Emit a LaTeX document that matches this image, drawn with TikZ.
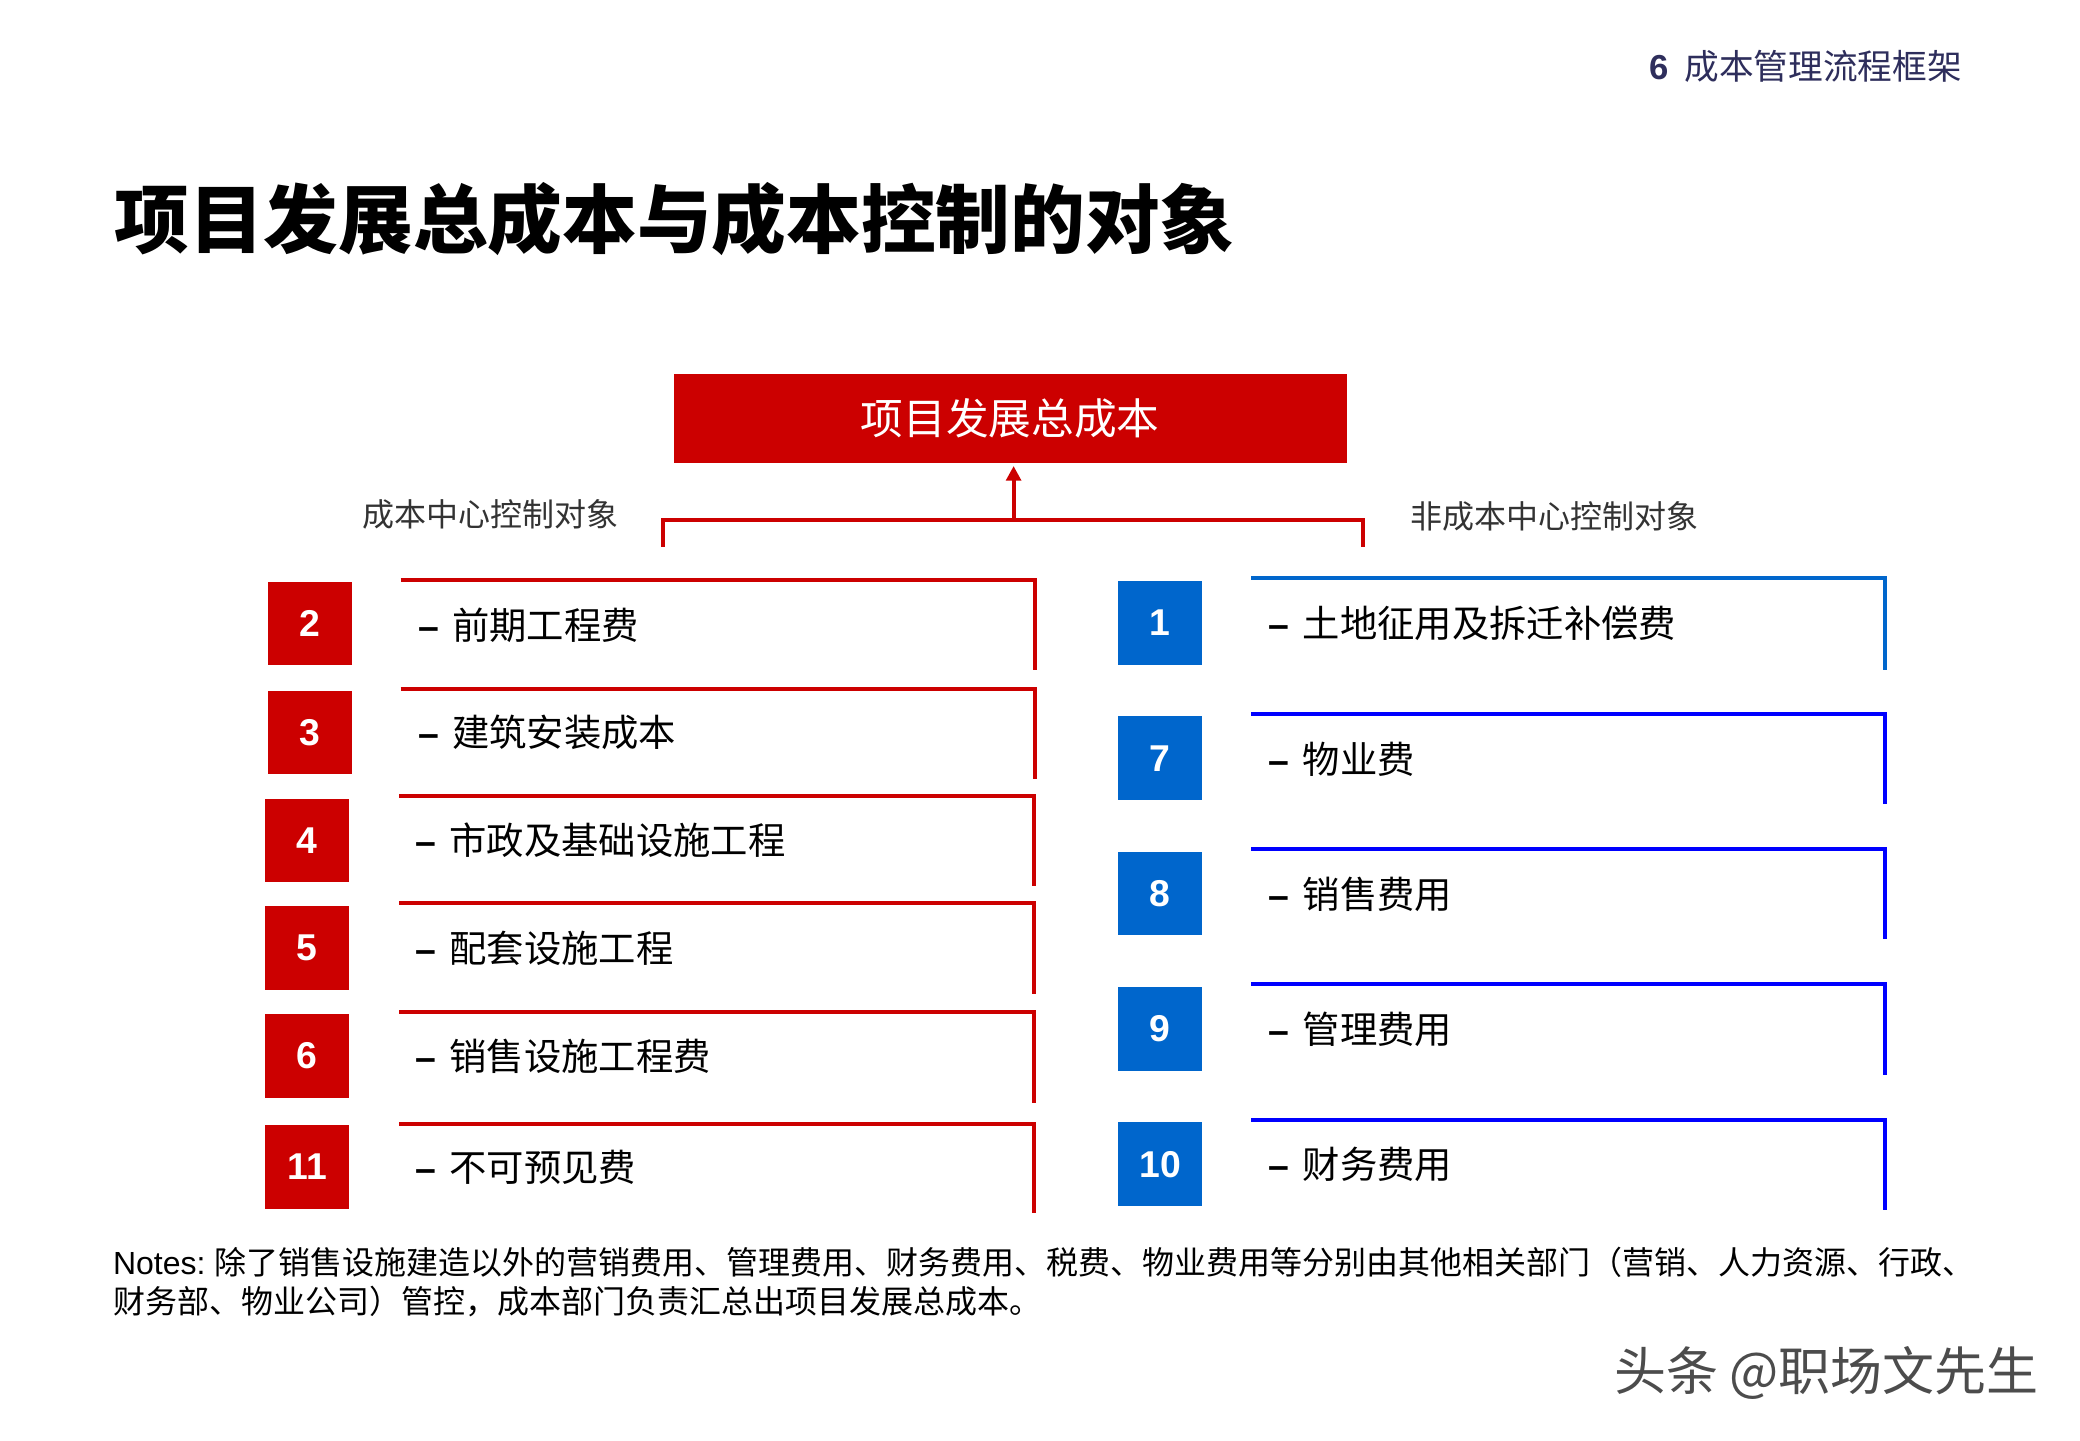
\documentclass[tikz,border=0pt]{standalone}
\usepackage{fontspec}
\setmainfont{Liberation Sans}
\newfontfamily\cjk{Noto Sans CJK SC}
\usetikzlibrary{arrows.meta}
\definecolor{costred}{HTML}{CC0000}
\definecolor{costblue}{HTML}{0066CC}
\definecolor{pureblue}{HTML}{0000FF}
\definecolor{headnavy}{HTML}{2E2E5C}
\newcommand{\fs}[1]{\fontsize{#1bp}{#1bp}\selectfont}
\newcommand{\dashtxt}[1]{\textbf{–}\hspace{10bp}{\cjk #1}}

\begin{document}
\begin{tikzpicture}[x=0.995bp,y=-0.995bp]
    \tikzstyle{every node}=[inner sep=0pt]
    \tikzstyle{numred}=[fill=costred,text=white,minimum width=62.7bp,minimum height=62.7bp,font=\bfseries\fs{28}]
    \tikzstyle{numblue}=[numred,fill=costblue]
    \tikzstyle{itemtext}=[anchor=west,font=\fs{28}]
    \tikzstyle{sidelabel}=[font=\cjk\fs{24},text=black!80]
    \tikzstyle{redframe}=[draw=costred,line width=3bp]
    \tikzstyle{blueframe}=[draw=pureblue,line width=3bp]
    \useasboundingbox[fill=white](0,0)rectangle(1567.8,1085.4);
    % header and title
    \draw node(head)[anchor=east,text=headnavy,font=\fs{26}]at(1479,50){\textbf{6}\hspace{12bp}{\cjk 成本管理流程框架}}
          node(title)[anchor=west,font=\cjk\bfseries\fs{56}]at(86,165){项目发展总成本与成本控制的对象};
    % top box
    \draw node(total)[fill=costred,text=white,minimum width=504.5bp,minimum height=66.7bp,font=\cjk\fs{32}]at(761.5,315.5){项目发展总成本}
          node(left)[sidelabel]at(370,388){成本中心控制对象}
          node(right)[sidelabel]at(1172,389){非成本中心控制对象};
    \coordinate(join)at(764,392);
    \draw[redframe](500,412)--(500,392)--(1027,392)--(1027,412);
    \draw[redframe,-{Triangle[length=11bp,width=11bp]},shorten >=2bp](join)--(join|-total.south);
    % cost centre items
    \draw node(c2)[numred]at(233.5,470){2}
          node(c3)[numred]at(233.5,552){3}
          node(c4)[numred]at(231.5,633.5){4}
          node(c5)[numred]at(231.5,714.5){5}
          node(c6)[numred]at(231.5,796){6}
          node(c11)[numred]at(231.5,879.5){11};
    \draw node(t2)[itemtext]at(315,471){\dashtxt{前期工程费}}
          node(t3)[itemtext]at(315,552){\dashtxt{建筑安装成本}}
          node(t4)[itemtext]at(313,633){\dashtxt{市政及基础设施工程}}
          node(t5)[itemtext]at(313,715){\dashtxt{配套设施工程}}
          node(t6)[itemtext]at(313,796){\dashtxt{销售设施工程费}}
          node(t11)[itemtext]at(313,880){\dashtxt{不可预见费}};
    \draw[redframe](302,437)--(780,437)--(780,505);
    \draw[redframe](302,519)--(780,519)--(780,587);
    \draw[redframe](301,600)--(779,600)--(779,668);
    \draw[redframe](301,681)--(779,681)--(779,749);
    \draw[redframe](301,763)--(779,763)--(779,831);
    \draw[redframe](301,847)--(779,847)--(779,914);
    % non cost centre items
    \draw node(n1)[numblue]at(874.5,469.5){1}
          node(n7)[numblue]at(874.5,571.5){7}
          node(n8)[numblue]at(874.5,673.5){8}
          node(n9)[numblue]at(874.5,775.5){9}
          node(n10)[numblue]at(874.5,877.5){10};
    \draw node(t1)[itemtext]at(956,470){\dashtxt{土地征用及拆迁补偿费}}
          node(t7)[itemtext]at(956,572){\dashtxt{物业费}}
          node(t8)[itemtext]at(956,674){\dashtxt{销售费用}}
          node(t9)[itemtext]at(956,776){\dashtxt{管理费用}}
          node(t10)[itemtext]at(956,878){\dashtxt{财务费用}};
    \draw[draw=costblue,line width=3bp](943,436)--(1421,436)--(1421,505);
    \draw[blueframe](943,538)--(1421,538)--(1421,606);
    \draw[blueframe](943,640)--(1421,640)--(1421,708);
    \draw[blueframe](943,742)--(1421,742)--(1421,810);
    \draw[blueframe](943,844)--(1421,844)--(1421,912);
    % notes
    \draw node(notes)[anchor=north west,align=left,font=\fs{24}]at(85,940){%
      Notes:\ {\cjk 除了销售设施建造以外的营销费用、管理费用、财务费用、税费、物业费用等分别由其他相关部门（营销、人力资源、行政、}\\[5bp]
      {\cjk 财务部、物业公司）管控，成本部门负责汇总出项目发展总成本。}};
    \draw node(mark)[anchor=east,text=black!70,font=\cjk\fs{39}]at(1537,1035){头条 @职场文先生};
  \end{tikzpicture}
\end{document}
